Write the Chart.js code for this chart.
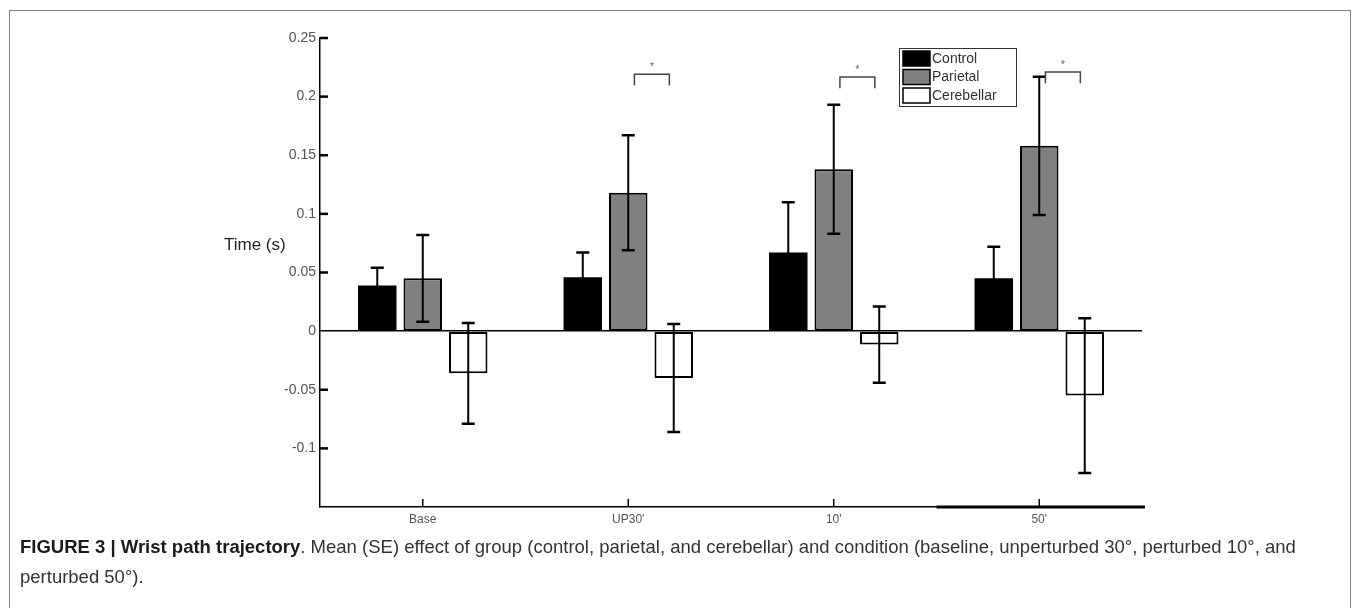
<!DOCTYPE html>
<html>
<head>
<meta charset="utf-8">
<script src="https://cdn.jsdelivr.net/npm/chart.js@4.4.0/dist/chart.umd.min.js"></script>
<style>
  html, body { margin: 0; padding: 0; background: #fff; }
  body { width: 1355px; height: 608px; position: relative; overflow: hidden; font-family: "Liberation Sans", Arial, sans-serif; }
  #frame { position: absolute; left: 9px; top: 10px; width: 1342px; height: 700px; border: 1.5px solid #808080; box-sizing: border-box; }
  #wrap { position: absolute; left: 0; top: 0; width: 1355px; height: 535px; }
  #caption { position: absolute; left: 20px; top: 532px; width: 1282px; font-size: 18.5px; line-height: 30px; color: #333; }
  #caption b { color: #1a1a1a; }
</style>
</head>
<body>
<div id="frame"></div>
<div id="wrap"><canvas id="barCanvas"></canvas></div>
<div id="caption"><b>FIGURE 3 | Wrist path trajectory</b>. Mean (SE) effect of group (control, parietal, and cerebellar) and condition (baseline, unperturbed 30°, perturbed 10°, and perturbed 50°).</div>
<script>
// conditions on the x axis
let conditions = ["Base", "UP30'", "10'", "50'"];

// group means (s) and standard errors
let control = [0.039, 0.046, 0.067, 0.045];
let controlSE = [0.015, 0.021, 0.043, 0.027];
let parietal = [0.045, 0.118, 0.138, 0.158];
let parietalSE = [0.037, 0.049, 0.055, 0.059];
let cerebellar = [-0.036, -0.040, -0.0115, -0.055];
let cerebellarSE = [0.043, 0.046, 0.0325, 0.066];

// significance brackets (parietal vs cerebellar), top of bracket in seconds
let sigCategories = [1, 2, 3];
let sigLevels = [0.219, 0.2167, 0.221];

let errors = [controlSE, parietalSE, cerebellarSE];

// error bars, inward ticks, horizontal y title, significance marks and legend
const extras = {
    id: 'extras',
    afterDatasetsDraw(chart) {
        const ctx = chart.ctx;
        const y = chart.scales.y;
        const x = chart.scales.x;
        const area = chart.chartArea;
        ctx.save();

        // error bars
        ctx.strokeStyle = '#000';
        chart.data.datasets.forEach(function(ds, i) {
            const meta = chart.getDatasetMeta(i);
            meta.data.forEach(function(bar, j) {
                const top = y.getPixelForValue(ds.data[j] + errors[i][j]);
                const bot = y.getPixelForValue(ds.data[j] - errors[i][j]);
                ctx.lineWidth = 2;
                ctx.beginPath();
                ctx.moveTo(bar.x, top);
                ctx.lineTo(bar.x, bot);
                ctx.stroke();
                ctx.lineWidth = 2.5;
                ctx.beginPath();
                ctx.moveTo(bar.x - 6.5, top);
                ctx.lineTo(bar.x + 6.5, top);
                ctx.moveTo(bar.x - 6.5, bot);
                ctx.lineTo(bar.x + 6.5, bot);
                ctx.stroke();
            });
        });

        // y ticks pointing inward
        ctx.lineWidth = 2.5;
        y.ticks.forEach(function(t) {
            if (t.value <= -0.149 || Math.abs(t.value) < 1e-9) return;
            const py = y.getPixelForValue(t.value);
            ctx.beginPath();
            ctx.moveTo(area.left, py);
            ctx.lineTo(area.left + 8, py);
            ctx.stroke();
        });

        // x ticks pointing up
        ctx.lineWidth = 1.5;
        conditions.forEach(function(c, j) {
            const px = x.getPixelForValue(j);
            ctx.beginPath();
            ctx.moveTo(px, area.bottom);
            ctx.lineTo(px, area.bottom - 8);
            ctx.stroke();
        });

        // thicker stretch of the x axis
        const half = (x.getPixelForValue(1) - x.getPixelForValue(0)) / 2;
        ctx.lineWidth = 3;
        ctx.beginPath();
        ctx.moveTo(x.getPixelForValue(2) + half, area.bottom);
        ctx.lineTo(area.right + 3, area.bottom);
        ctx.stroke();

        // significance brackets
        ctx.strokeStyle = '#444';
        ctx.lineWidth = 1.5;
        ctx.fillStyle = '#666';
        ctx.font = '11px "Liberation Sans", Arial';
        ctx.textAlign = 'center';
        ctx.textBaseline = 'middle';
        sigCategories.forEach(function(c, k) {
            const x0 = x.getPixelForValue(c) + 0.03 * half * 2;
            const x1 = x.getPixelForValue(c) + 0.2 * half * 2;
            const py = y.getPixelForValue(sigLevels[k]);
            const pl = y.getPixelForValue(sigLevels[k] - 0.0095);
            ctx.beginPath();
            ctx.moveTo(x0, pl);
            ctx.lineTo(x0, py);
            ctx.lineTo(x1, py);
            ctx.lineTo(x1, pl);
            ctx.stroke();
            ctx.fillText('*', (x0 + x1) / 2, py - 7);
        });

        // y axis title, horizontal
        ctx.fillStyle = '#222';
        ctx.font = '17px "Liberation Sans", Arial';
        ctx.textAlign = 'left';
        ctx.fillText('Time (s)', 224, y.getPixelForValue(0.073));

        // legend box
        const lx = 899, ly = 48, lw = 117, lh = 58;
        ctx.fillStyle = '#fff';
        ctx.fillRect(lx, ly, lw, lh);
        ctx.strokeStyle = '#333';
        ctx.lineWidth = 1;
        ctx.strokeRect(lx + 0.5, ly + 0.5, lw, lh);
        ctx.font = '14px "Liberation Sans", Arial';
        chart.data.datasets.forEach(function(ds, i) {
            const ry = ly + 3 + i * 18.5;
            ctx.fillStyle = ds.backgroundColor;
            ctx.fillRect(lx + 4, ry, 27, 15);
            ctx.strokeStyle = '#000';
            ctx.lineWidth = 1.5;
            ctx.strokeRect(lx + 4, ry, 27, 15);
            ctx.fillStyle = '#333';
            ctx.fillText(ds.label, lx + 33, ry + 8);
        });

        ctx.restore();
    }
};

barCanvas = document.getElementById("barCanvas");

barChart = new Chart(barCanvas, {
    type: "bar",
    data: {
        labels: conditions,
        datasets: [
            { label: "Control", data: control, backgroundColor: "#000000", borderColor: "#000", borderWidth: 0 },
            { label: "Parietal", data: parietal, backgroundColor: "#808080", borderColor: "#000", borderWidth: 2, borderSkipped: false },
            { label: "Cerebellar", data: cerebellar, backgroundColor: "#ffffff", borderColor: "#000", borderWidth: 2, borderSkipped: false }
        ]
    },
    options: {
        responsive: true,
        maintainAspectRatio: false,
        animation: false,
        categoryPercentage: 0.664,
        barPercentage: 0.846,
        layout: { padding: { top: 38, right: 213, left: 0, bottom: 0 } },
        scales: {
            x: {
                grid: { display: false, drawTicks: false },
                border: { display: true, color: "#000", width: 1.5 },
                ticks: { color: "#555", font: { size: 12, family: '"Liberation Sans", Arial' }, padding: 5 },
                afterFit: function(scale) { scale.height = 28; }
            },
            y: {
                min: -0.15,
                max: 0.25,
                grid: {
                    drawTicks: false,
                    color: function(c) { return c.tick && Math.abs(c.tick.value) < 1e-9 ? "#000" : "rgba(0,0,0,0)"; },
                    lineWidth: 1.5
                },
                border: { display: true, color: "#000", width: 1.5 },
                ticks: {
                    stepSize: 0.05,
                    color: "#555",
                    padding: 4,
                    font: { size: 14, family: '"Liberation Sans", Arial' },
                    callback: function(value) {
                        if (value <= -0.149) return '';
                        return String(Number(value.toFixed(2)));
                    }
                },
                afterFit: function(scale) { scale.width = 320; }
            }
        },
        plugins: { legend: { display: false }, tooltip: { enabled: false } }
    },
    plugins: [extras]
});
</script>
</body>
</html>
